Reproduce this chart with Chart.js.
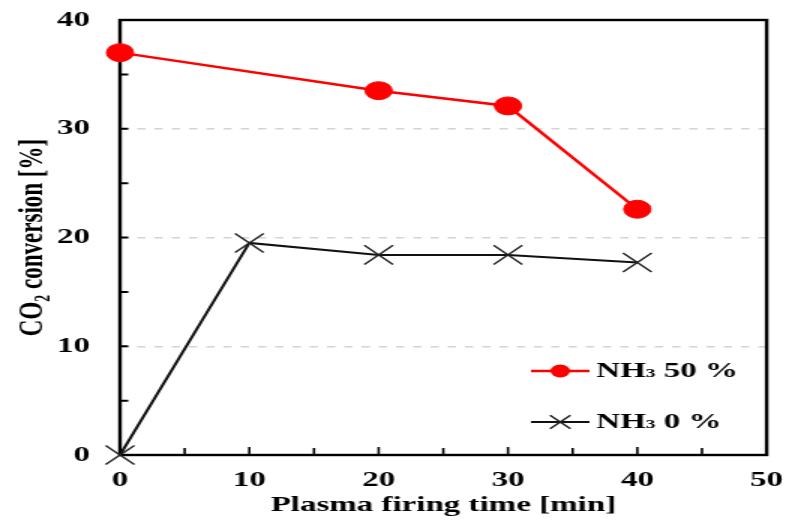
<!DOCTYPE html>
<html>
<head>
<meta charset="utf-8">
<script src="https://cdn.jsdelivr.net/npm/chart.js@4/dist/chart.umd.min.js"></script>
<style>
  html, body { margin: 0; padding: 0; background: #fff; overflow: hidden; }
  /* the figure is drawn narrow and widened 1.5x to the 789px page */
  #wrap { width: 526px; height: 523px; transform: scaleX(1.5); transform-origin: 0 0; }
</style>
</head>
<body>
<div id="wrap"><canvas id="c" width="526" height="523"></canvas></div>
<script>
// Plasma firing time [min]
const timeNH3_50 = [0, 20, 30, 40];
const conversionNH3_50 = [37.0, 33.5, 32.1, 22.6];
const timeNH3_0 = [0, 10, 20, 30, 40];
const conversionNH3_0 = [0.0, 19.5, 18.4, 18.4, 17.7];
const xTicks = [0, 10, 20, 30, 40, 50];
const yTicks = [0, 10, 20, 30, 40];
const seriesLabels = ['NH3 50 %', 'NH3 0 %'];

const SERIF = '"Liberation Serif", "Times New Roman", serif';
const RED = '#ff0000';

function toPoints(xs, ys) { return xs.map((x, i) => ({ x: x, y: ys[i] })); }

// Box frame with inward ticks every 5 units
const framePlugin = {
  id: 'frame',
  beforeDatasetsDraw(chart) {
    const { ctx, chartArea: a, scales: { x, y } } = chart;
    ctx.save();
    ctx.strokeStyle = '#000';
    ctx.lineWidth = 1.6;
    ctx.beginPath();
    for (let v = x.min + 5; v < x.max; v += 5) {
      const px = x.getPixelForValue(v);
      const len = v % 10 === 0 ? 8 : 7;
      ctx.moveTo(px, a.bottom); ctx.lineTo(px, a.bottom - len);
    }
    ctx.stroke();
    ctx.lineWidth = 2;
    ctx.beginPath();
    for (let v = y.min + 5; v < y.max; v += 5) {
      const py = y.getPixelForValue(v);
      ctx.moveTo(a.left, py); ctx.lineTo(a.left + 5.5, py);
    }
    ctx.stroke();
    ctx.lineWidth = 2.4;
    ctx.strokeRect(a.left, a.top, a.right - a.left, a.bottom - a.top);
    ctx.restore();
  }
};

// Legend rows: line + marker + label with subscript
function drawLabel(ctx, text, x, yMid) {
  const m = text.match(/^NH(\d)(.*)$/);
  ctx.fillStyle = '#000';
  ctx.textBaseline = 'middle';
  ctx.textAlign = 'left';
  ctx.font = 'bold 22px ' + SERIF;
  ctx.fillText('NH', x, yMid);
  let cx = x + ctx.measureText('NH').width;
  ctx.font = 'bold 13px ' + SERIF;
  ctx.fillText(m[1], cx, yMid + 3);
  cx += ctx.measureText(m[1]).width;
  ctx.font = 'bold 22px ' + SERIF;
  ctx.fillText(m[2], cx, yMid);
}
const legendPlugin = {
  id: 'sideLegend',
  afterDatasetsDraw(chart) {
    const { ctx } = chart;
    const rows = [{ y: 371, ds: 0 }, { y: 422, ds: 1 }];
    ctx.save();
    rows.forEach(r => {
      const ds = chart.data.datasets[r.ds];
      ctx.strokeStyle = ds.borderColor;
      ctx.lineWidth = ds.borderWidth;
      ctx.beginPath(); ctx.moveTo(354, r.y); ctx.lineTo(393, r.y); ctx.stroke();
      const cx = 373.5;
      if (ds.pointStyle === 'circle') {
        ctx.fillStyle = ds.pointBackgroundColor;
        ctx.beginPath(); ctx.arc(cx, r.y, 6.5, 0, Math.PI * 2); ctx.fill();
      } else {
        ctx.lineWidth = 1.5;
        ctx.strokeStyle = ds.pointBorderColor;
        const h = 6.8;
        ctx.beginPath();
        ctx.moveTo(cx - h, r.y - h); ctx.lineTo(cx + h, r.y + h);
        ctx.moveTo(cx - h, r.y + h); ctx.lineTo(cx + h, r.y - h);
        ctx.stroke();
      }
      drawLabel(ctx, seriesLabels[r.ds], 397.5, r.y);
    });
    ctx.restore();
  }
};

new Chart(document.getElementById('c'), {
  type: 'line',
  data: {
    datasets: [
      {
        label: seriesLabels[0],
        data: toPoints(timeNH3_50, conversionNH3_50),
        borderColor: RED,
        borderWidth: 2.5,
        pointStyle: 'circle',
        pointRadius: 9,
        pointBackgroundColor: RED,
        pointBorderColor: RED,
        pointBorderWidth: 1,
        clip: false,
        order: 0
      },
      {
        label: seriesLabels[1],
        data: toPoints(timeNH3_0, conversionNH3_0),
        borderColor: '#111',
        borderWidth: 2,
        pointStyle: 'crossRot',
        pointRadius: 13.5,
        pointBorderColor: '#222',
        pointBorderWidth: 1.4,
        clip: false,
        order: 1
      }
    ]
  },
  options: {
    responsive: false,
    animation: false,
    devicePixelRatio: 1,
    layout: { padding: { top: 20, right: 14, left: 0, bottom: 0 } },
    plugins: { legend: { display: false }, tooltip: { enabled: false } },
    scales: {
      x: {
        type: 'linear',
        min: 0, max: 50,
        afterBuildTicks: s => { s.ticks = xTicks.map(v => ({ value: v })); },
        afterFit: s => { s.height = 68; s.paddingLeft = 0; s.paddingRight = 0; },
        grid: { display: false, drawTicks: false },
        border: { display: false },
        ticks: {
          padding: 12,
          color: '#000',
          maxRotation: 0,
          font: { family: SERIF, size: 22, weight: 'bold' }
        },
        title: {
          display: true,
          text: 'Plasma firing time [min]',
          color: '#000',
          font: { family: SERIF, size: 22, weight: 'bold' },
          padding: { top: 0, bottom: 4 }
        }
      },
      y: {
        type: 'linear',
        min: 0, max: 40,
        afterBuildTicks: s => { s.ticks = yTicks.map(v => ({ value: v })); },
        afterFit: s => { s.width = 80; s.paddingTop = 0; s.paddingBottom = 0; },
        grid: {
          drawTicks: false,
          lineWidth: 1.5,
          color: c => (c.tick && c.tick.value > 0 && c.tick.value < 40) ? '#d4d4d4' : 'rgba(0,0,0,0)'
        },
        border: { display: false, dash: [5.5, 6] },
        ticks: {
          padding: 20,
          color: '#000',
          font: { family: SERIF, size: 22, weight: 'bold' }
        },
        title: {
          display: true,
          text: 'CO₂ conversion [%]',
          color: '#000',
          font: { family: SERIF, size: 23, weight: 'bold' },
          padding: { top: 8, bottom: 0 }
        }
      }
    }
  },
  plugins: [framePlugin, legendPlugin]
});
</script>
</body>
</html>
